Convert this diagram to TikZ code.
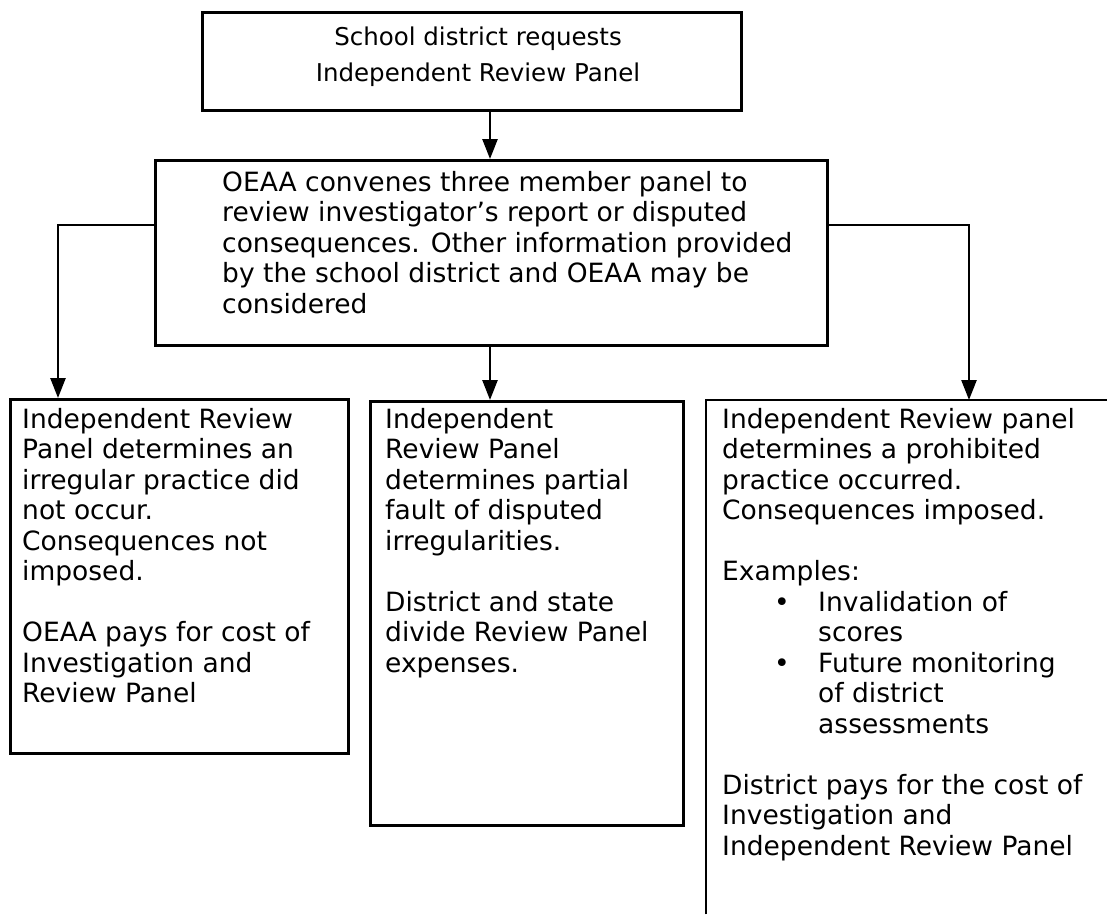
\documentclass[tikz,border=0pt]{standalone}
\usepackage{fontspec}
\setmainfont{DejaVu Sans}
\usetikzlibrary{arrows.meta}
\begin{document}
\begin{tikzpicture}[x=1pt,y=-1pt,
  box/.style={draw=black, line width=2.5pt, inner sep=0pt, rectangle, anchor=north west},
  txt/.style={inner sep=0pt, anchor=north west, align=left, font=\fontsize{26.5}{30.5}\selectfont},
  conn/.style={line width=2.5pt, -{Triangle[length=20pt,width=15pt]}},
  ]
\useasboundingbox (0,0) rectangle (1107,914);
\fill[white] (0,0) rectangle (1107,914);
% boxes
\node[box, minimum width=539pt, minimum height=98pt] (top) at (201,11) {};
\node[box, minimum width=672pt, minimum height=185pt] (conv) at (154,159) {};
\node[box, minimum width=338pt, minimum height=354pt] (lbox) at (9,398) {};
\node[box, minimum width=313pt, minimum height=424pt] (mbox) at (369,400) {};
\node[inner sep=0pt, anchor=north west, minimum width=401pt, minimum height=514pt] (rbox) at (706,400) {};
\draw[line width=2.5pt] (rbox.south west) -- (rbox.north west) -- (rbox.north east);
% texts
\node[txt, anchor=north, align=center, font=\fontsize{24.5}{36}\selectfont] (ttop) at (478,27) {School district requests\\Independent Review Panel};
\node[txt] (tconv) at (222,171) {OEAA convenes three member panel to\\review investigator’s report or disputed\\consequences. Other information provided\\by the school district and OEAA may be\\considered};
\node[txt] (tl) at (22,408) {Independent Review\\Panel determines an\\irregular practice did\\not occur.\\Consequences not\\imposed.\\[30.5pt]OEAA pays for cost of\\Investigation and\\Review Panel};
\node[txt] (tm) at (385,408) {Independent\\Review Panel\\determines partial\\fault of disputed\\irregularities.\\[30.5pt]District and state\\divide Review Panel\\expenses.};
\node[txt] (tr) at (722,408) {Independent Review panel\\determines a prohibited\\practice occurred.\\Consequences imposed.\\[30.5pt]Examples:\\
\makebox[96pt][l]{\hspace*{52pt}•}Invalidation of\\
\hspace*{96pt}scores\\
\makebox[96pt][l]{\hspace*{52pt}•}Future monitoring\\
\hspace*{96pt}of district\\
\hspace*{96pt}assessments\\[30.5pt]District pays for the cost of\\Investigation and\\Independent Review Panel};
% connectors
\coordinate (jm) at (490,0);
\coordinate (jl) at (58,225);
\coordinate (jr) at (969,225);
\draw[conn] (jm |- top.south) -- (jm |- conv.north);
\draw[conn] (jm |- conv.south) -- (jm |- mbox.north);
\draw[conn] (conv.west |- jl) -- (jl) -- (jl |- lbox.north);
\draw[conn] (conv.east |- jr) -- (jr) -- (jr |- rbox.north);
\end{tikzpicture}
\end{document}
